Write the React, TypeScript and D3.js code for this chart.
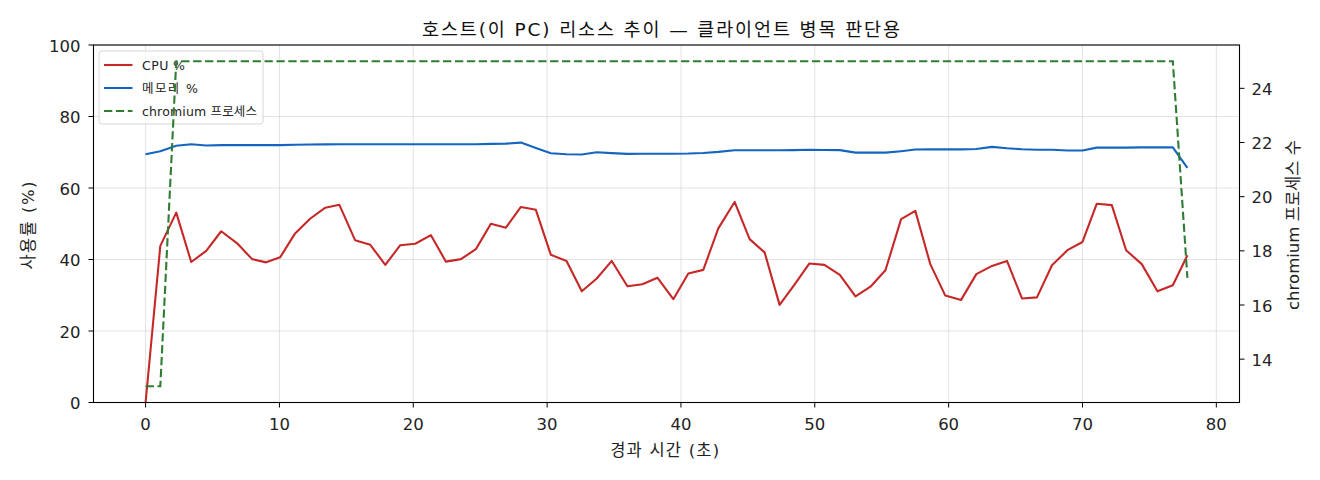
// @ts-nocheck
import * as d3 from "d3";

// 경과 시간 (초) per sample
const times = [
  0, 1.1, 2.29, 3.41, 4.53, 5.65, 6.82, 7.96, 9.01, 10.05, 11.17, 12.29, 13.43,
  14.48, 15.65, 16.79, 17.91, 19.03, 20.15, 21.32, 22.44, 23.56, 24.68, 25.8,
  26.92, 28.04, 29.16, 30.28, 31.45, 32.59, 33.71, 34.83, 36.0, 37.12, 38.24,
  39.43, 40.55, 41.67, 42.79, 44.01, 45.13, 46.25, 47.37, 48.43, 49.6, 50.72,
  51.87, 53.04, 54.16, 55.28, 56.45, 57.51, 58.63, 59.75, 60.93, 62.07, 63.24,
  64.36, 65.48, 66.6, 67.72, 68.91, 70.0, 71.07, 72.19, 73.26, 74.43, 75.6,
  76.75, 77.84,
];

const cpu = [
  0, 43.8, 53.1, 39.3, 42.4, 47.9, 44.6, 40.1, 39.2, 40.6, 47.3, 51.4, 54.5,
  55.3, 45.4, 44.1, 38.5, 44.0, 44.4, 46.8, 39.4, 40.1, 42.9, 50.0, 48.9, 54.7,
  53.9, 41.3, 39.6, 31.1, 34.7, 39.6, 32.5, 33.1, 34.9, 28.9, 36.1, 37.1, 48.7,
  56.1, 45.7, 42.0, 27.3, 32.7, 38.9, 38.5, 35.7, 29.7, 32.4, 37.0, 51.3, 53.6,
  38.7, 29.9, 28.7, 35.9, 38.2, 39.6, 29.1, 29.4, 38.4, 42.7, 44.9, 55.6, 55.2,
  42.6, 38.7, 31.1, 32.8, 41.2,
];

const memory = [
  69.45, 70.3, 71.8, 72.25, 71.9, 72.0, 72.0, 72.0, 72.0, 72.0, 72.1, 72.15,
  72.2, 72.25, 72.25, 72.25, 72.25, 72.25, 72.25, 72.25, 72.25, 72.25, 72.25,
  72.35, 72.4, 72.7, 71.2, 69.7, 69.45, 69.35, 70.0, 69.75, 69.55, 69.6, 69.6,
  69.6, 69.65, 69.8, 70.1, 70.55, 70.55, 70.55, 70.55, 70.6, 70.7, 70.65, 70.6,
  69.9, 69.9, 69.9, 70.3, 70.75, 70.8, 70.8, 70.8, 70.9, 71.5, 71.1, 70.85,
  70.7, 70.7, 70.5, 70.5, 71.3, 71.3, 71.3, 71.35, 71.35, 71.35, 65.6,
];

const chromium = [
  13, 13, 25, 25, 25, 25, 25, 25, 25, 25, 25, 25, 25, 25, 25, 25, 25, 25, 25,
  25, 25, 25, 25, 25, 25, 25, 25, 25, 25, 25, 25, 25, 25, 25, 25, 25, 25, 25,
  25, 25, 25, 25, 25, 25, 25, 25, 25, 25, 25, 25, 25, 25, 25, 25, 25, 25, 25,
  25, 25, 25, 25, 25, 25, 25, 25, 25, 25, 25, 25, 17,
];

const xTicks = [0, 10, 20, 30, 40, 50, 60, 70, 80];
const yTicks = [0, 20, 40, 60, 80, 100];
const y2Ticks = [14, 16, 18, 20, 22, 24];

const legendItems = [
  { label: "CPU %", color: "#c62828", dash: null, len: 43 },
  { label: "메모리 %", color: "#1565c0", dash: null, len: 56 },
  { label: "chromium 프로세스", color: "#2e7d32", dash: "8.3,3.6", len: 115 },
];

const W = 1320;
const H = 480;
const FONT = "'DejaVu Sans', 'Noto Sans CJK KR', sans-serif";

export default function App() {
  const left = 93.5;
  const right = 1239.5;
  const top = 45;
  const bottom = 402.5;

  // matplotlib-style 5% margins
  const [t0, t1] = d3.extent(times);
  const padX = (t1 - t0) * 0.05;
  const x = d3.scaleLinear().domain([t0 - padX, t1 + padX]).range([left, right]);
  const y = d3.scaleLinear().domain([0, 100]).range([bottom, top]);
  const [c0, c1] = d3.extent(chromium);
  const padC = (c1 - c0) * 0.05;
  const y2 = d3.scaleLinear().domain([c0 - padC, c1 + padC]).range([bottom, top]);

  const lineL = d3
    .line()
    .x((d) => x(d[0]))
    .y((d) => y(d[1]));
  const lineR = d3
    .line()
    .x((d) => x(d[0]))
    .y((d) => y2(d[1]));

  const cpuPath = lineL(times.map((t, i) => [t, cpu[i]]));
  const memPath = lineL(times.map((t, i) => [t, memory[i]]));
  const chrPath = lineR(times.map((t, i) => [t, chromium[i]]));

  return (
    <>
      <style>{"body{margin:0}"}</style>
      <svg width={W} height={H} style={{ display: "block", background: "#fff" }} fontFamily={FONT}>
        {/* grid */}
        <g stroke="#b0b0b0" strokeOpacity={0.35} strokeWidth={1}>
          {xTicks.map((t) => (
            <line key={"gx" + t} x1={x(t)} x2={x(t)} y1={top} y2={bottom} />
          ))}
          {yTicks.map((t) => (
            <line key={"gy" + t} x1={left} x2={right} y1={y(t)} y2={y(t)} />
          ))}
        </g>

        <path d={cpuPath} fill="none" stroke="#c62828" strokeWidth={2.1} strokeLinejoin="round" />
        <path d={memPath} fill="none" stroke="#1565c0" strokeWidth={2.1} strokeLinejoin="round" />

        {/* legend (belongs to the left axes, drawn under the right-axes line) */}
        <g transform="translate(99,51)">
          <rect width={164} height={73} rx={3} fill="#fff" fillOpacity={0.8} stroke="#d6d6d6" strokeWidth={1} />
          {legendItems.map((it, i) => (
            <g key={it.label} transform={`translate(0,${14 + i * 23})`}>
              <line x1={5} x2={33.5} y1={0} y2={0} stroke={it.color} strokeWidth={2.1} strokeDasharray={it.dash || undefined} />
              <text x={43} y={0} dy="0.36em" fontSize={12.5} fill="#222" textLength={it.len} lengthAdjust="spacing">
                {it.label}
              </text>
            </g>
          ))}
        </g>

        <path d={chrPath} fill="none" stroke="#2e7d32" strokeWidth={2.1} strokeDasharray="8.3,3.6" />

        {/* spines */}
        <rect x={left} y={top} width={right - left} height={bottom - top} fill="none" stroke="#000" strokeWidth={1.1} />

        {/* ticks */}
        <g fontSize={16.5} fill="#222">
          {xTicks.map((t) => (
            <g key={"xt" + t}>
              <line x1={x(t)} x2={x(t)} y1={bottom} y2={bottom + 5} stroke="#000" />
              <text x={x(t)} y={430} textAnchor="middle">
                {t}
              </text>
            </g>
          ))}
          {yTicks.map((t) => (
            <g key={"yt" + t}>
              <line x1={left - 5} x2={left} y1={y(t)} y2={y(t)} stroke="#000" />
              <text x={left - 13} y={y(t)} dy="0.4em" textAnchor="end">
                {t}
              </text>
            </g>
          ))}
          {y2Ticks.map((t) => (
            <g key={"y2t" + t}>
              <line x1={right} x2={right + 5} y1={y2(t)} y2={y2(t)} stroke="#000" />
              <text x={right + 12} y={y2(t)} dy="0.4em" textAnchor="start">
                {t}
              </text>
            </g>
          ))}
        </g>

        {/* labels */}
        <text x={664.7} y={456} textAnchor="middle" fontSize={16.5} fill="#222" textLength={109} lengthAdjust="spacing">
          경과 시간 (초)
        </text>
        <text transform="translate(34,225.5) rotate(-90)" textAnchor="middle" fontSize={16.5} fill="#222" textLength={88} lengthAdjust="spacing">
          사용률 (%)
        </text>
        <text transform="translate(1299,225) rotate(-90)" textAnchor="middle" fontSize={16.5} fill="#222" textLength={170} lengthAdjust="spacing">
          chromium 프로세스 수
        </text>
        <text x={661} y={36} textAnchor="middle" fontSize={18.5} fill="#111" textLength={478} lengthAdjust="spacing">
          호스트(이 PC) 리소스 추이 — 클라이언트 병목 판단용
        </text>
      </svg>
    </>
  );
}
